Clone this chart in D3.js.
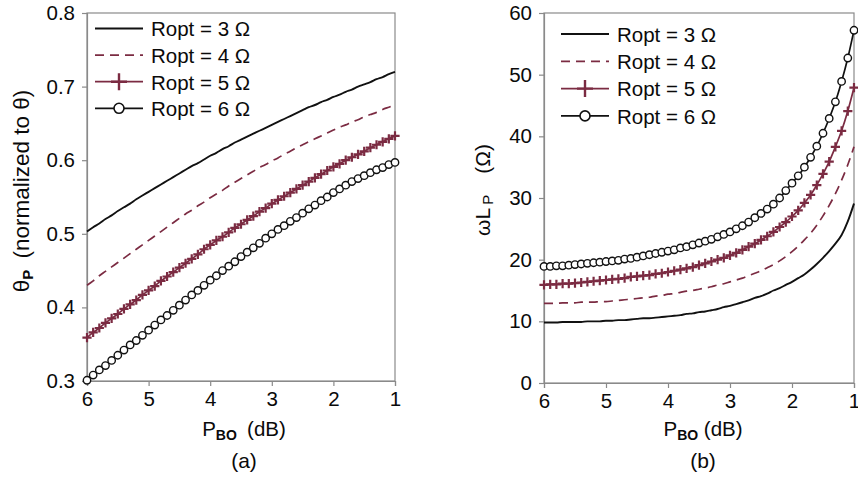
<!DOCTYPE html>
<html><head><meta charset="utf-8">
<script src="https://cdn.jsdelivr.net/npm/d3@7"></script>
<style>
body{margin:0;background:#fff;}
text{font-family:"Liberation Sans",Arial,sans-serif;fill:#0a0a0a;}
</style></head>
<body><svg id="c" width="858" height="483"></svg>
<script>
// P_BO (dB), from 6 down to 1 in 0.1 dB steps
const pbo = [6.0,5.9,5.8,5.7,5.6,5.5,5.4,5.3,5.2,5.1,5.0,4.9,4.8,4.7,4.6,4.5,4.4,4.3,4.2,4.1,4.0,3.9,3.8,3.7,3.6,3.5,3.4,3.3,3.2,3.1,3.0,2.9,2.8,2.7,2.6,2.5,2.4,2.3,2.2,2.1,2.0,1.9,1.8,1.7,1.6,1.5,1.4,1.3,1.2,1.1,1.0];
const seriesNames = ["Ropt = 3 \u03A9","Ropt = 4 \u03A9","Ropt = 5 \u03A9","Ropt = 6 \u03A9"];

// (a) theta_P normalized to theta
const thetaR3 = [.503,.509,.514,.520,.525,.531,.536,.541,.547,.552,.557,.562,.567,.572,.577,.582,.587,.592,.596,.601,.606,.610,.615,.619,.624,.628,.632,.636,.640,.644,.648,.652,.656,.660,.664,.668,.672,.675,.679,.682,.686,.689,.693,.696,.700,.703,.706,.710,.713,.717,.720];
const thetaR4 = [.430,.436,.443,.449,.455,.461,.467,.473,.479,.485,.491,.497,.503,.509,.515,.521,.527,.532,.538,.543,.549,.554,.559,.565,.570,.575,.580,.585,.590,.594,.599,.603,.608,.612,.617,.621,.625,.629,.633,.637,.641,.645,.648,.652,.655,.659,.662,.665,.669,.672,.675];
const thetaR5 = [.359,.366,.372,.379,.385,.391,.398,.404,.410,.417,.423,.429,.436,.442,.448,.454,.460,.466,.472,.479,.485,.491,.496,.502,.508,.513,.519,.524,.530,.535,.541,.546,.551,.556,.561,.566,.571,.576,.581,.586,.591,.595,.600,.604,.608,.612,.617,.621,.625,.629,.633];
const thetaR6 = [.301,.308,.315,.321,.328,.335,.342,.349,.355,.362,.369,.376,.383,.389,.396,.403,.410,.417,.423,.430,.437,.443,.450,.456,.462,.469,.475,.481,.487,.494,.500,.506,.511,.517,.522,.528,.534,.539,.545,.550,.556,.561,.566,.571,.575,.579,.583,.587,.590,.594,.597];

// (b) omega*L_P (Ohm)
const wlR3 = [9.8,9.8,9.8,9.9,9.9,9.9,9.9,10.0,10.0,10.0,10.1,10.1,10.2,10.2,10.3,10.4,10.5,10.5,10.6,10.7,10.8,10.9,11.0,11.2,11.3,11.5,11.6,11.8,12.0,12.3,12.5,12.8,13.1,13.4,13.8,14.1,14.5,15.0,15.4,15.9,16.4,17.0,17.6,18.4,19.3,20.3,21.4,22.6,24.0,26.2,29.1];
const wlR4 = [12.9,12.9,12.9,13.0,13.0,13.0,13.1,13.1,13.1,13.2,13.2,13.3,13.4,13.5,13.6,13.7,13.8,13.9,14.1,14.2,14.4,14.5,14.7,14.9,15.0,15.2,15.4,15.6,15.9,16.1,16.4,16.7,17.0,17.4,17.8,18.2,18.7,19.2,19.8,20.5,21.3,22.2,23.2,24.3,25.6,27.1,28.8,30.7,32.9,35.4,38.3];
const wlR5 = [15.9,16.0,16.0,16.1,16.1,16.2,16.3,16.4,16.5,16.6,16.7,16.8,16.9,17.0,17.2,17.3,17.4,17.5,17.7,17.8,18.0,18.2,18.4,18.6,18.8,19.1,19.4,19.7,20.0,20.3,20.7,21.1,21.6,22.1,22.6,23.2,23.8,24.5,25.3,26.1,27.0,28.0,29.2,30.5,32.1,33.9,35.9,38.3,40.9,44.1,47.9];
const wlR6 = [18.9,18.9,19.0,19.0,19.1,19.2,19.3,19.4,19.5,19.6,19.7,19.8,19.9,20.1,20.2,20.4,20.6,20.8,21.0,21.2,21.4,21.6,21.9,22.1,22.4,22.7,23.0,23.3,23.7,24.1,24.5,25.0,25.5,26.1,26.8,27.5,28.2,29.0,30.0,31.2,32.4,33.6,35.0,36.6,38.4,40.5,42.9,45.6,48.9,52.7,57.2];

const xTicks = [6,5,4,3,2,1];
const yTicksA = [0.3,0.4,0.5,0.6,0.7,0.8];
const yTicksB = [0,10,20,30,40,50,60];

const MAROON = "#7b2b42";
const styles = [
  {color:"#111", dash:null, marker:null},
  {color:MAROON, dash:"9,6", marker:null},
  {color:MAROON, dash:null, marker:"plus"},
  {color:"#111", dash:null, marker:"circle"}
];

const svg = d3.select("#c");

function panel(opt){
  const g = svg.append("g");
  const x = d3.scaleLinear().domain([6,1]).range([opt.x0,opt.x1]);
  const y = d3.scaleLinear().domain(opt.ydom).range([opt.y1,opt.y0]);
  g.append("rect").attr("x",opt.x0).attr("y",opt.y0).attr("width",opt.x1-opt.x0).attr("height",opt.y1-opt.y0)
    .attr("fill","none").attr("stroke","#8a8a8a").attr("stroke-width",1.2);
  const ax = g.append("g").attr("transform",`translate(0,${opt.y1})`)
    .call(d3.axisBottom(x).tickValues(xTicks).tickFormat(d3.format("d")).tickSize(5).tickPadding(5));
  const ay = g.append("g").attr("transform",`translate(${opt.x0},0)`)
    .call(d3.axisLeft(y).tickValues(opt.yticks).tickFormat(opt.fmt).tickSize(5).tickPadding(7));
  [ax,ay].forEach(a=>{
    a.select(".domain").attr("stroke","#8a8a8a").attr("stroke-width",1.2);
    a.selectAll(".tick line").attr("stroke","#8a8a8a").attr("stroke-width",1.2);
    a.selectAll(".tick text").style("font-family","'Liberation Sans',Arial,sans-serif").style("font-size","20.5px").attr("fill","#0a0a0a");
  });
  const plot = g.append("g");
  const line = d3.line().x((d,i)=>x(pbo[i])).y(d=>y(d)).curve(d3.curveMonotoneX);
  opt.data.forEach((vals,k)=>{
    const s = styles[k];
    plot.append("path").attr("d",line(vals)).attr("fill","none").attr("stroke",s.color)
      .attr("stroke-width",k===0?1.9:1.7).attr("stroke-dasharray",s.dash);
    if(s.marker==="plus"){
      plot.selectAll(null).data(vals).enter().append("path")
        .attr("d",(d,i)=>{const cx=x(pbo[i]),cy=y(d),r=4.6;return `M${cx-r},${cy}H${cx+r}M${cx},${cy-r}V${cy+r}`;})
        .attr("stroke",s.color).attr("stroke-width",2.2).attr("fill","none");
    } else if(s.marker==="circle"){
      plot.selectAll(null).data(vals).enter().append("circle")
        .attr("cx",(d,i)=>x(pbo[i])).attr("cy",d=>y(d)).attr("r",3.7)
        .attr("fill","#fff").attr("stroke",s.color).attr("stroke-width",1.4);
    }
  });
  const lg = g.append("g");
  seriesNames.forEach((name,k)=>{
    const s = styles[k], yy = opt.leg.y + k*opt.leg.dy;
    lg.append("line").attr("x1",opt.leg.x).attr("x2",opt.leg.x+48).attr("y1",yy).attr("y2",yy)
      .attr("stroke",s.color).attr("stroke-width",k===0?1.9:1.7).attr("stroke-dasharray",s.dash);
    const mx = opt.leg.x+24;
    if(s.marker==="plus"){
      lg.append("path").attr("d",`M${mx},${yy-8.5}V${yy+8.5}M${mx-8},${yy}H${mx+8}`).attr("stroke",s.color).attr("stroke-width",2.4);
    } else if(s.marker==="circle"){
      lg.append("circle").attr("cx",mx).attr("cy",yy).attr("r",5).attr("fill","#fff").attr("stroke",s.color).attr("stroke-width",1.6);
    }
    lg.append("text").attr("x",opt.leg.x+56).attr("y",yy+7.8).style("font-size","20.5px").text(name);
  });
  const xl = g.append("text").attr("x",opt.xlab.x).attr("y",opt.xlab.y).attr("text-anchor","middle").style("font-size","20.5px");
  xl.append("tspan").text("P");
  xl.append("tspan").attr("dy",4).style("font-size","14px").style("font-weight","bold").text("BO");
  xl.append("tspan").attr("dy",-4).text(opt.xlab.gap+"(dB)");
  g.append("text").attr("x",opt.xlab.x).attr("y",opt.xlab.y+32).attr("text-anchor","middle").style("font-size","21px").text(opt.tag);
  return {g,x,y};
}

panel({x0:87,x1:395,y0:13,y1:381,ydom:[0.3,0.8],yticks:yTicksA,fmt:d3.format(".1f"),
  data:[thetaR3,thetaR4,thetaR5,thetaR6],leg:{x:95,y:28.5,dy:26.6},xlab:{x:244,y:436,gap:"\u2002"},tag:"(a)"});
panel({x0:544,x1:854,y0:13,y1:383,ydom:[0,60],yticks:yTicksB,fmt:d3.format("d"),
  data:[wlR3,wlR4,wlR5,wlR6],leg:{x:561,y:34,dy:27.3},xlab:{x:703,y:436,gap:" "},tag:"(b)"});

const yla = svg.append("text").attr("transform","translate(29,191) rotate(-90)").attr("text-anchor","middle").style("font-size","22.5px");
yla.append("tspan").text("\u03B8");
yla.append("tspan").attr("dy",4).style("font-size","15px").style("font-weight","bold").text("P");
yla.append("tspan").attr("dy",-4).text("\u2002(normalized to \u03B8)");

const ylb = svg.append("text").attr("transform","translate(490,190) rotate(-90)").attr("text-anchor","middle").style("font-size","21px");
ylb.append("tspan").text("\u03C9L");
ylb.append("tspan").attr("dy",3).style("font-size","15px").text("\u2009P");
ylb.append("tspan").attr("dy",-3).text("\u2002\u2002(\u03A9)");
</script></body></html>
